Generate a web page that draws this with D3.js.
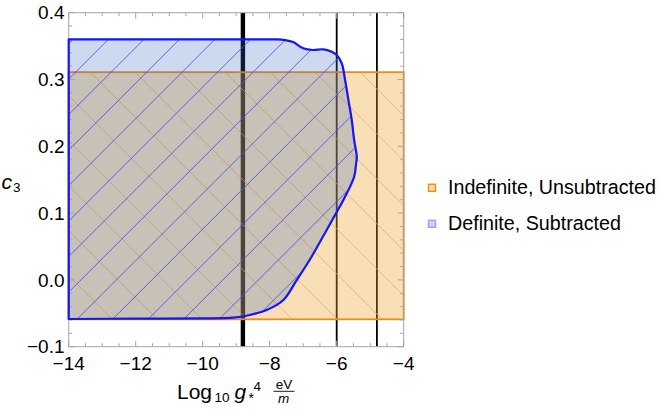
<!DOCTYPE html>
<html>
<head>
<meta charset="utf-8">
<script src="https://cdn.jsdelivr.net/npm/d3@7"></script>
<style>
  html, body { margin: 0; padding: 0; background: #fff; }
  svg { display: block; }
  text { font-family: "Liberation Sans", Arial, sans-serif; fill: #000; }
</style>
</head>
<body>
<svg id="chart" width="664" height="410"></svg>
<script>
// ---------------- data ----------------
const xTicks = [-14, -12, -10, -8, -6, -4];
const xTickLabels = ["\u221214", "\u221212", "\u221210", "\u22128", "\u22126", "\u22124"];
const yTicks = [-0.1, 0.0, 0.1, 0.2, 0.3, 0.4];
const yTickLabels = ["\u22120.1", "0.0", "0.1", "0.2", "0.3", "0.4"];

// vertical reference lines (log10 g*^4 eV/m)
const thickLines = [-8.8];
const thinLines = [-6.0, -4.8];

// Indefinite, Unsubtracted region (rectangle)
const unsubX = [-14, -4];
const unsubC3 = [-0.059, 0.311];

// Definite, Subtracted region boundary (clockwise from top-left)
const subX = [-14, -12, -10, -8.5, -7.8, -7.54, -7.30, -7.00, -6.71, -6.40, -6.15, -6.00, -5.85, -5.75, -5.65,
              -5.55, -5.48, -5.40, -5.42, -5.48, -5.75, -6.02, -6.30, -6.75, -7.19, -7.59, -8.09, -8.59, -9.09,
              -10, -12, -14];
const subC3 = [0.360, 0.360, 0.360, 0.360, 0.360, 0.359, 0.356, 0.3467, 0.3442, 0.3452, 0.3416, 0.3367, 0.3243, 0.2993, 0.2693,
               0.2394, 0.2095, 0.1844, 0.1746, 0.1545, 0.1246, 0.0997, 0.0747, 0.0347, 0.0, -0.030, -0.045, -0.0525, -0.0566,
               -0.0577, -0.058, -0.0585];

const legendLabels = ["Indefinite, Unsubtracted", "Definite, Subtracted"];

// ---------------- layout ----------------
const svg = d3.select("#chart");
const X0 = 68.7, X1 = 403.7, Y0 = 12.7, Y1 = 346.7;
const x = d3.scaleLinear().domain([-14, -4]).range([X0, X1]);
const y = d3.scaleLinear().domain([-0.1, 0.4]).range([Y1, Y0]);

const orangeEdge = "#f0891c", orangeFill = "rgb(235,164,46)";
const blueEdge = "#1515f5", blueFill = "rgb(55,103,187)";

const defs = svg.append("defs");
const subPts = subX.map((v, i) => [x(v), y(subC3[i])]);
const subLine = d3.line().curve(d3.curveCatmullRom.alpha(0.5));
const subPath = subLine(subPts) + "Z";
const rectAttrs = { x: x(unsubX[0]), y: y(unsubC3[1]), w: x(unsubX[1]) - x(unsubX[0]), h: y(unsubC3[0]) - y(unsubC3[1]) };

defs.append("clipPath").attr("id", "clipSub").append("path").attr("d", subPath);
defs.append("clipPath").attr("id", "clipUnsub").append("rect")
  .attr("x", rectAttrs.x).attr("y", rectAttrs.y).attr("width", rectAttrs.w).attr("height", rectAttrs.h);
defs.append("clipPath").attr("id", "clipPlot").append("rect")
  .attr("x", X0).attr("y", Y0).attr("width", X1 - X0).attr("height", Y1 - Y0);

// vertical lines (drawn beneath the translucent regions)
const vl = svg.append("g").attr("clip-path", "url(#clipPlot)");
vl.selectAll("line.thick").data(thickLines).join("line")
  .attr("x1", d => x(d)).attr("x2", d => x(d)).attr("y1", Y0).attr("y2", Y1)
  .attr("stroke", "#000").attr("stroke-width", 4.4);
vl.selectAll("line.thin").data(thinLines).join("line")
  .attr("x1", d => x(d)).attr("x2", d => x(d)).attr("y1", Y0).attr("y2", Y1)
  .attr("stroke", "#000").attr("stroke-width", 1.8);

// orange region
svg.append("rect").attr("x", rectAttrs.x).attr("y", rectAttrs.y)
  .attr("width", rectAttrs.w).attr("height", rectAttrs.h)
  .attr("fill", orangeFill).attr("fill-opacity", 0.35);
const oh = svg.append("g").attr("clip-path", "url(#clipUnsub)");
for (let c = -72 - 45 * 8; c < 400; c += 45) {
  // x - y = c
  oh.append("line").attr("x1", X0 - 10).attr("y1", X0 - 10 - c).attr("x2", X1 + 10).attr("y2", X1 + 10 - c)
    .attr("stroke", "#eea560").attr("stroke-width", 0.9).attr("stroke-opacity", 0.8);
}
svg.append("rect").attr("x", rectAttrs.x).attr("y", rectAttrs.y)
  .attr("width", rectAttrs.w).attr("height", rectAttrs.h)
  .attr("fill", "none").attr("stroke", orangeEdge).attr("stroke-width", 1.8);

// blue region
svg.append("path").attr("d", subPath).attr("fill", blueFill).attr("fill-opacity", 0.25);
const bh = svg.append("g").attr("clip-path", "url(#clipSub)");
for (let c = 254.3 - 35.5 * 6; c < 760; c += 35.5) {
  // x + y = c
  bh.append("line").attr("x1", X0 - 10).attr("y1", c - X0 + 10).attr("x2", X1 + 10).attr("y2", c - X1 - 10)
    .attr("stroke", "#4f4fe4").attr("stroke-width", 1).attr("stroke-opacity", 0.85);
}

// ---------------- frame & ticks ----------------
const frameCol = "#a6a6a6";
const fr = svg.append("g");
fr.append("line").attr("x1", X0).attr("x2", X1).attr("y1", Y0).attr("y2", Y0).attr("stroke", frameCol);
fr.append("line").attr("x1", X0).attr("x2", X1).attr("y1", Y1).attr("y2", Y1).attr("stroke", frameCol);
fr.append("line").attr("x1", X0).attr("x2", X0).attr("y1", Y0).attr("y2", Y1).attr("stroke", frameCol);
fr.append("line").attr("x1", X1).attr("x2", X1).attr("y1", Y0).attr("y2", Y1).attr("stroke", frameCol);

const xMinor = d3.range(-14, -3.99, 0.5);
const yMinor = d3.range(-0.1, 0.4001, 0.02);
xMinor.forEach(v => {
  const major = Math.abs(v / 2 - Math.round(v / 2)) < 1e-6;
  const L = major ? 6 : 3.5;
  fr.append("line").attr("x1", x(v)).attr("x2", x(v)).attr("y1", Y1).attr("y2", Y1 - L).attr("stroke", frameCol);
  fr.append("line").attr("x1", x(v)).attr("x2", x(v)).attr("y1", Y0).attr("y2", Y0 + L).attr("stroke", frameCol);
});
yMinor.forEach(v => {
  const major = Math.abs(v * 10 - Math.round(v * 10)) < 1e-6;
  const L = major ? 6 : 3.5;
  fr.append("line").attr("x1", X0).attr("x2", X0 + L).attr("y1", y(v)).attr("y2", y(v)).attr("stroke", frameCol);
  fr.append("line").attr("x1", X1).attr("x2", X1 - L).attr("y1", y(v)).attr("y2", y(v)).attr("stroke", frameCol);
});

// blue edge on top
svg.append("path").attr("d", subPath).attr("fill", "none")
  .attr("stroke", blueEdge).attr("stroke-width", 2.2).attr("stroke-linejoin", "round");

// tick labels
svg.append("g").selectAll("text").data(xTicks).join("text")
  .attr("x", d => x(d)).attr("y", 369.5).attr("text-anchor", "middle")
  .style("font-size", "19px").text((d, i) => xTickLabels[i]);
svg.append("g").selectAll("text").data(yTicks).join("text")
  .attr("x", 64.5).attr("y", d => y(d) + 6.7).attr("text-anchor", "end")
  .style("font-size", "19px").text((d, i) => yTickLabels[i]);

// axis labels
const yl = svg.append("g");
yl.append("text").attr("x", 1.5).attr("y", 188.5).style("font-size", "21px").style("font-style", "italic").text("c");
yl.append("text").attr("x", 13).attr("y", 192).style("font-size", "13.5px").text("3");

const xl = svg.append("g");
xl.append("text").attr("x", 177).attr("y", 399).style("font-size", "21px").text("Log");
xl.append("text").attr("x", 214.5).attr("y", 402).style("font-size", "13.5px").text("10");
xl.append("text").attr("x", 234.5).attr("y", 399).style("font-size", "21px").style("font-style", "italic").text("g");
xl.append("text").attr("x", 248.5).attr("y", 403).style("font-size", "14px").text("*");
xl.append("text").attr("x", 253.5).attr("y", 391).style("font-size", "13.5px").text("4");
xl.append("text").attr("x", 284).attr("y", 388.5).attr("text-anchor", "middle").style("font-size", "13.5px").text("eV");
xl.append("line").attr("x1", 273.5).attr("x2", 294.5).attr("y1", 391.3).attr("y2", 391.3).attr("stroke", "#000").attr("stroke-width", 0.9);
xl.append("text").attr("x", 283.5).attr("y", 403).attr("text-anchor", "middle").style("font-size", "13.5px").style("font-style", "italic").text("m");

// legend
const legStyles = [
  { stroke: "#f0901e", fill: "#fadcb0" },
  { stroke: "#a0a6ea", fill: "#ccd3f2" }
];
const legY = [187.8, 223.8];
const lg = svg.append("g");
legendLabels.forEach((lab, i) => {
  lg.append("rect").attr("x", 428.5).attr("y", legY[i] - 3.5).attr("width", 7).attr("height", 7)
    .attr("fill", legStyles[i].fill).attr("stroke", legStyles[i].stroke).attr("stroke-width", 1.5);
  lg.append("text").attr("x", 448).attr("y", legY[i] + 6.6).style("font-size", "19.7px").text(lab);
});
</script>
</body>
</html>
